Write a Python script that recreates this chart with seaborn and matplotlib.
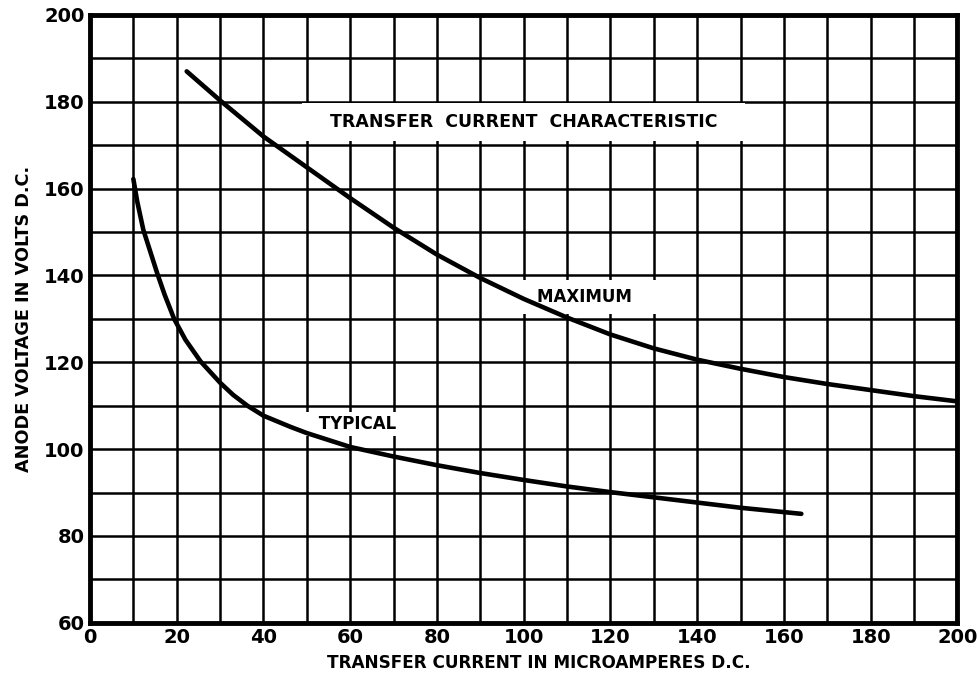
import numpy as np
import pandas as pd
import matplotlib
matplotlib.use("Agg")
import matplotlib.pyplot as plt
import seaborn as sns

# values
typical_current = [10, 10.9, 12.3, 15.5, 17.2, 19.4, 22, 25.5, 30, 33, 36.3, 40, 46.3, 50, 60, 70, 80,
                   90, 100, 110, 120, 130, 140, 150, 160, 164]
typical_voltage = [162.2, 157, 150.5, 140.5, 135.6, 130, 125.2, 120.2, 115.3, 112.5, 110, 107.7, 105.1, 103.7,
                   100.5, 98.3, 96.3, 94.5, 92.9, 91.4, 90.1, 88.9, 87.7, 86.5, 85.5, 85.1]

max_current = [22.3, 30, 40, 50, 60, 70, 80, 90, 100, 110, 120, 130, 140, 150, 160, 170, 180, 190, 200]
max_voltage = [187, 180.3, 172, 164.9, 157.8, 151, 144.8, 139.4, 134.6, 130.3, 126.4, 123.2, 120.6,
               118.5, 116.6, 115, 113.6, 112.2, 111]

x_ticks = list(range(0, 201, 10))
y_ticks = list(range(60, 201, 10))

df = pd.concat([
    pd.DataFrame({"current": typical_current, "voltage": typical_voltage, "curve": "TYPICAL"}),
    pd.DataFrame({"current": max_current, "voltage": max_voltage, "curve": "MAXIMUM"}),
])

sns.set_style("white")
plt.rcParams["font.family"] = ["DejaVu Sans"]
plt.rcParams["text.color"] = "black"
plt.rcParams["axes.labelcolor"] = "black"
plt.rcParams["xtick.color"] = "black"
plt.rcParams["ytick.color"] = "black"

fig = plt.figure(figsize=(9.78, 6.77), dpi=100)
ax = fig.add_axes([0.092, 0.080, 0.887, 0.898])

sns.lineplot(data=df, x="current", y="voltage", units="curve", estimator=None,
             color="black", linewidth=3.3, sort=False, ax=ax, legend=False, zorder=5,
             solid_capstyle="round", solid_joinstyle="round")

ax.set_xlim(0, 200)
ax.set_ylim(60, 200)
ax.set_xticks(x_ticks)
ax.set_yticks(y_ticks)
ax.set_xticklabels([str(v) if v % 20 == 0 else "" for v in x_ticks])
ax.set_yticklabels([str(v) if v % 20 == 0 else "" for v in y_ticks])
ax.grid(True, color="black", linewidth=1.8)
ax.set_axisbelow(True)
ax.tick_params(length=0, labelsize=14, pad=4)
for lab in ax.get_xticklabels() + ax.get_yticklabels():
    lab.set_fontweight("bold")
for s in ax.spines.values():
    s.set_visible(True)
    s.set_color("black")
    s.set_linewidth(3.5)

ax.set_xlabel("TRANSFER CURRENT IN MICROAMPERES D.C.", fontsize=12.2, fontweight="bold", labelpad=6)
ax.xaxis.set_label_coords(0.517, -0.052)
ax.set_ylabel("ANODE VOLTAGE IN VOLTS D.C.", fontsize=12.7, fontweight="bold", labelpad=8)

ax.text(100, 175.3, "   TRANSFER  CURRENT  CHARACTERISTIC   ", ha="center", va="center",
        fontsize=12.5, fontweight="bold",
        bbox=dict(facecolor="white", edgecolor="none", pad=7), zorder=4)
ax.text(114, 135, "    MAXIMUM    ", ha="center", va="center", fontsize=12,
        fontweight="bold", bbox=dict(facecolor="white", edgecolor="none", pad=6), zorder=4)
ax.text(58.4, 105.8, "     TYPICAL", ha="center", va="center", fontsize=12,
        fontweight="bold", bbox=dict(facecolor="white", edgecolor="none", pad=2), zorder=4)

fig.savefig("out.png", dpi=100)
